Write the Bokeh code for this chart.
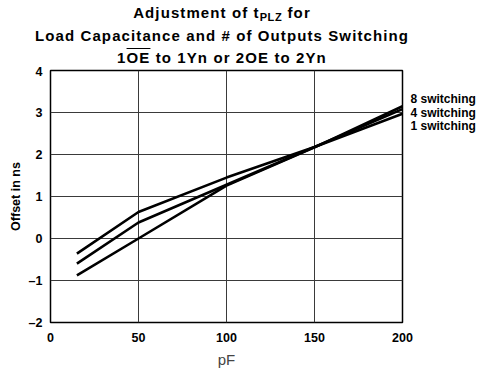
from bokeh.plotting import figure
from bokeh.models import Range1d, FixedTicker, LinearAxis, Div
from bokeh.layouts import column
from bokeh.embed import file_html
from bokeh.resources import INLINE

# ---- data ----
pf = [15, 50, 100, 150, 200]
one_switching = [-0.36, 0.63, 1.45, 2.18, 2.97]
four_switching = [-0.60, 0.38, 1.28, 2.18, 3.08]
eight_switching = [-0.88, 0.00, 1.26, 2.17, 3.15]

x_ticks = [0, 50, 100, 150, 200]
y_ticks = [-2, -1, 0, 1, 2, 3, 4]
y_tick_labels = {-2: "\u20132", -1: "\u20131", 0: "0", 1: "1", 2: "2", 3: "3", 4: "4"}
series_labels = {1: "1 switching", 2: "4 switching", 3: "8 switching"}
y_title = "Offset in ns"
x_title = "pF"

FONT = "Liberation Sans"

# ---- title (HTML text, with subscript and overline) ----
title_html = (
    '<div style="width: 444px; font-family: \'Liberation Sans\', Arial, sans-serif; font-weight: bold; '
    'font-size: 15px; letter-spacing: 1.1px; line-height: 22px; text-align: center; '
    'padding-top: 1.5px; color: black; white-space: nowrap;">'
    'Adjustment of t<span style="font-size: 11px; letter-spacing: 0.6px; position: relative; top: 3px;">PLZ</span> for<br>'
    'Load Capacitance and # of Outputs Switching<br>'
    '1<span style="text-decoration: overline;">OE</span> to 1Yn or 2OE to 2Yn'
    '</div>'
)
title = Div(text=title_html, width=444, height=64, margin=(0, 0, 0, 0))

# ---- figure ----
p = figure(width=480, height=309, output_backend="svg", toolbar_location=None,
           x_range=Range1d(0, 200), y_range=Range1d(-2, 4),
           min_border_left=50, min_border_right=78, min_border_top=6, min_border_bottom=51,
           margin=(0, 0, 0, 0))
p.background_fill_color = "white"
p.border_fill_color = "white"
p.outline_line_color = "black"
p.outline_line_width = 1.5


def style_axis(ax, size="12.5px", standoff=9):
    ax.major_tick_out = 0
    ax.major_tick_in = 0
    ax.minor_tick_out = 0
    ax.minor_tick_in = 0
    ax.axis_line_color = None
    ax.major_label_text_font = FONT
    ax.major_label_text_font_style = "bold"
    ax.major_label_text_font_size = size
    ax.major_label_text_color = "black"
    ax.major_label_standoff = standoff


xa = p.xaxis[0]
ya = p.yaxis[0]
style_axis(xa, standoff=10)
style_axis(ya, standoff=8)
xa.ticker = FixedTicker(ticks=x_ticks)
ya.ticker = FixedTicker(ticks=y_ticks)
ya.major_label_overrides = y_tick_labels

xa.axis_label = x_title
xa.axis_label_text_font = FONT
xa.axis_label_text_font_style = "normal"
xa.axis_label_text_font_size = "15px"
xa.axis_label_standoff = 6

ya.axis_label = y_title
ya.axis_label_text_font = FONT
ya.axis_label_text_font_style = "bold"
ya.axis_label_text_font_size = "12.5px"
ya.axis_label_text_color = "black"
ya.axis_label_standoff = 3

# series labels on the right, placed through an extra range
p.extra_y_ranges = {"lab": Range1d(-13.33, 5.066)}
ra = LinearAxis(y_range_name="lab", ticker=FixedTicker(ticks=list(series_labels.keys())),
                major_label_overrides=series_labels)
style_axis(ra, size="12px", standoff=8)
p.add_layout(ra, "right")

p.xgrid.grid_line_color = "#3a3a3a"
p.ygrid.grid_line_color = "#3a3a3a"
p.xgrid.grid_line_width = 1
p.ygrid.grid_line_width = 1

for ys in (one_switching, four_switching, eight_switching):
    p.line(pf, ys, line_color="black", line_width=2.6)

layout = column(title, p, spacing=0, margin=(0, 0, 0, 0))
open("out.html", "w").write(file_html(layout, INLINE))
